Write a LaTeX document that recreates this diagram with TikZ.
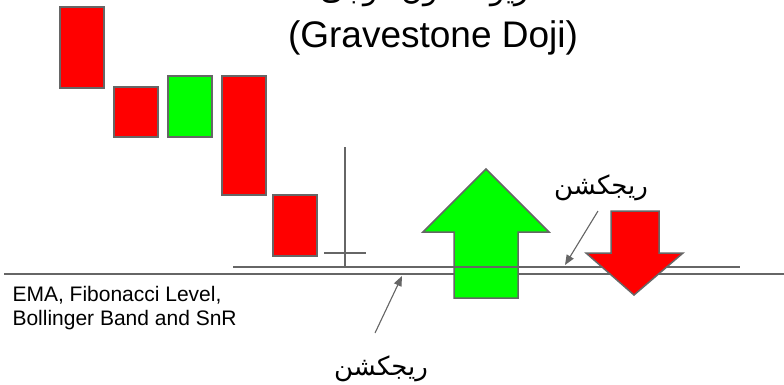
\documentclass[tikz,border=0pt]{standalone}
\usepackage{fontspec}
\setmainfont{Liberation Sans}
\newfontfamily\farsifont[Script=Arabic]{DejaVu Sans}
\TeXXeTstate=1
\usetikzlibrary{arrows.meta}

\definecolor{candlered}{RGB}{255,0,0}
\definecolor{candlegreen}{RGB}{0,255,0}
\definecolor{edgegray}{RGB}{102,102,102}

\begin{document}
\begin{tikzpicture}[x=1pt, y=-1pt, candle/.style = {draw=edgegray, line width=1.5pt}, level/.style = {draw=edgegray, line width=1.6pt}, pointer/.style = {draw=edgegray, fill=edgegray, line width=1.1pt, -{Triangle[length=10pt,width=8pt]}}, farsi/.style = {font=\fontsize{26}{30}\selectfont\farsifont}]
    \useasboundingbox (0,0) rectangle (784,384);

    % title
    \node[anchor=base, font=\fontsize{30}{36}\selectfont\farsifont] (titlefa) at (433,-1) {\beginR گریو استون دوجی\endR};
    \node[font=\fontsize{37}{44}\selectfont] (titleen) at (433,37.5) {(Gravestone Doji)};

    % candles
    \draw[candle, fill=candlered]   (60,7)   rectangle (104,88);
    \draw[candle, fill=candlered]   (114,87) rectangle (158,137);
    \draw[candle, fill=candlegreen] (168,76) rectangle (212,137);
    \draw[candle, fill=candlered]   (222,76) rectangle (266,195);
    \draw[candle, fill=candlered]   (273,195) rectangle (317,256);

    % doji
    \draw[level] (345,147) -- (345,267);
    \draw[level] (324,253) -- (366,253);

    % levels and arrows
    \draw[level] (4,274) -- (784,274) coordinate (lowlevel);
    \draw[candle, fill=candlegreen] (454,298) -- (454,232) -- (423,232) -- (486,169) -- (549,232) -- (518,232) -- (518,298) -- cycle;
    \draw[level] (233,267) -- (740,267) coordinate (highlevel);
    \draw[candle, fill=candlered] (611,211) -- (659,211) -- (659,253) -- (683,253) -- (634,295) -- (586,253) -- (611,253) -- cycle;

    \node[anchor=west, align=left, font=\fontsize{21}{24.5}\selectfont] (levels) at (9,308) {EMA, Fibonacci Level,\\Bollinger Band and SnR};

    % rejections
    \node[farsi] (rejtop) at (601,188) {\beginR ریجکشن\endR};
    \node[farsi] (rejbottom) at (381,369) {\beginR ریجکشن\endR};
    \coordinate (toptip) at (565,265);
    \coordinate (bottomtip) at (402,276);
    \draw[pointer] (598,211) -- (toptip);
    \draw[pointer] (375,333) -- (bottomtip);

\end{tikzpicture}
\end{document}
